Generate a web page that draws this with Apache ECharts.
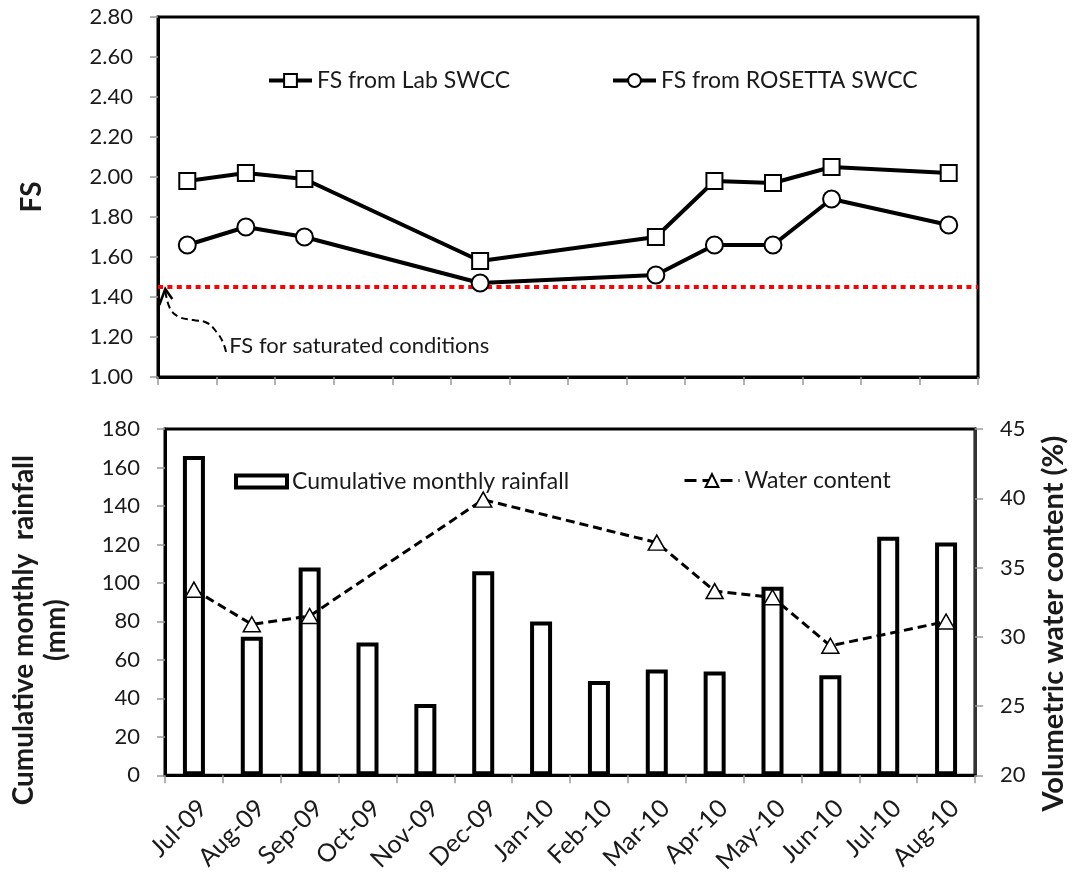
<!DOCTYPE html>
<html>
<head>
<meta charset="utf-8">
<script src="https://cdn.jsdelivr.net/npm/echarts@6/dist/echarts.min.js"></script>
<style>
  html, body { margin: 0; padding: 0; background: #ffffff; }
  #chart { width: 1076px; height: 876px; }
</style>
</head>
<body>
<div id="chart"></div>
<script>
// Monthly categories shared by both panels
const months = ['Jul-09', 'Aug-09', 'Sep-09', 'Oct-09', 'Nov-09', 'Dec-09', 'Jan-10',
                'Feb-10', 'Mar-10', 'Apr-10', 'May-10', 'Jun-10', 'Jul-10', 'Aug-10'];

// Factor of safety (null = no survey that month)
const fsLab     = [1.98, 2.02, 1.99, null, null, 1.58, null, null, 1.70, 1.98, 1.97, 2.05, null, 2.02];
const fsRosetta = [1.66, 1.75, 1.70, null, null, 1.47, null, null, 1.51, 1.66, 1.66, 1.89, null, 1.76];
const fsSaturated = 1.45;

// Cumulative monthly rainfall (mm)
const rainfall = [166, 72, 108, 69, 37, 106, 80, 49, 55, 54, 98, 52, 124, 121];

// Volumetric water content (%)
const waterContent = [33.4, 30.9, 31.5, null, null, 39.9, null, null, 36.8, 33.3, 32.85, 29.35, null, 31.1];

// Axis ranges / tick steps
const fsAxis = { min: 1.0, max: 2.8, step: 0.2 };
const rainAxis = { min: 0, max: 180, step: 20 };
const wcAxis = { min: 20, max: 45, step: 5 };

const FONT = 'Lato, "Open Sans", sans-serif';
const TEXT = '#1a1a1a';
const TICK = { show: true, length: 8, lineStyle: { color: '#9a9a9a', width: 1.5 } };
const labelStyle = { fontFamily: FONT, fontSize: 22, color: TEXT };
const legendText = { fontFamily: FONT, fontSize: 23, color: TEXT };
const nameStyle = { fontFamily: FONT, fontSize: 28, fontWeight: 'bold', color: TEXT };

const chart = echarts.init(document.getElementById('chart'), null, { renderer: 'canvas' });

const option = {
  animation: false,
  backgroundColor: '#ffffff',
  grid: [
    { left: 158, top: 17, width: 820, height: 360, show: true, borderColor: '#000', borderWidth: 3, containLabel: false },
    { left: 163, top: 429, width: 819, height: 351, show: true, borderColor: '#000', borderWidth: 3, containLabel: false }
  ],
  legend: [
    { data: ['FS from Lab SWCC'], left: 267, top: 69, padding: 0, itemWidth: 43, itemHeight: 16,
      textStyle: legendText, lineStyle: { width: 4 } },
    { data: ['FS from ROSETTA SWCC'], left: 611, top: 69, padding: 0, itemWidth: 43, itemHeight: 16,
      textStyle: legendText, lineStyle: { width: 4 } },
    { data: ['Cumulative monthly rainfall'], left: 234, top: 470, padding: 0, itemWidth: 51, itemHeight: 12,
      icon: 'rect', textStyle: legendText,
      itemStyle: { color: '#fff', borderColor: '#000', borderWidth: 4 } },
    { data: ['Water content'], left: 683, top: 469, padding: 0, itemWidth: 55, itemHeight: 16,
      textStyle: legendText, lineStyle: { width: 3, type: 'dashed' } }
  ],
  xAxis: [
    { type: 'category', gridIndex: 0, data: months, boundaryGap: true,
      axisLine: { lineStyle: { color: '#000', width: 3 } },
      axisTick: TICK, axisLabel: { show: false }, splitLine: { show: false } },
    { type: 'category', gridIndex: 1, data: months, boundaryGap: true,
      axisLine: { lineStyle: { color: '#000', width: 3 } },
      axisTick: TICK,
      axisLabel: Object.assign({ rotate: 45, margin: 20, verticalAlign: 'top', interval: 0 },
                               labelStyle, { fontSize: 25 }),
      splitLine: { show: false } }
  ],
  yAxis: [
    { type: 'value', gridIndex: 0, min: fsAxis.min, max: fsAxis.max, interval: fsAxis.step,
      name: 'FS', nameLocation: 'middle', nameRotate: 90, nameGap: 112, nameTextStyle: nameStyle,
      axisLine: { show: true, lineStyle: { color: '#000', width: 3 } },
      axisTick: TICK,
      axisLabel: Object.assign({ margin: 25, formatter: v => v.toFixed(2) }, labelStyle),
      splitLine: { show: false } },
    { type: 'value', gridIndex: 1, min: rainAxis.min, max: rainAxis.max, interval: rainAxis.step,
      name: 'Cumulative monthly  rainfall\n(mm)', nameLocation: 'middle', nameRotate: 90, nameGap: 93,
      nameTextStyle: Object.assign({ lineHeight: 32, align: 'center', padding: [0, 56, 0, 0] }, nameStyle),
      axisLine: { show: true, lineStyle: { color: '#000', width: 3 } },
      axisTick: TICK,
      axisLabel: Object.assign({ margin: 25 }, labelStyle),
      splitLine: { show: false } },
    { type: 'value', gridIndex: 1, position: 'right', min: wcAxis.min, max: wcAxis.max, interval: wcAxis.step,
      name: 'Volumetric water content (%)', nameLocation: 'middle', nameRotate: 90, nameGap: 64,
      nameTextStyle: Object.assign({ padding: [0, 43, 0, 0] }, nameStyle, { fontSize: 29 }),
      axisLine: { show: true, lineStyle: { color: '#333', width: 3 } },
      axisTick: TICK,
      axisLabel: Object.assign({ margin: 25 }, labelStyle),
      splitLine: { show: false } }
  ],
  series: [
    { name: 'FS from Lab SWCC', type: 'line', xAxisIndex: 0, yAxisIndex: 0, data: fsLab,
      connectNulls: true, symbol: 'rect', symbolSize: 16, z: 3,
      lineStyle: { color: '#000', width: 4 },
      itemStyle: { color: '#fff', borderColor: '#000', borderWidth: 2 },
      markLine: {
        silent: true, symbol: 'none', label: { show: false }, z: 2,
        lineStyle: { color: '#ff0000', width: 4, type: [5, 4.4], cap: 'butt' },
        data: [{ yAxis: fsSaturated }]
      } },
    { name: 'FS from ROSETTA SWCC', type: 'line', xAxisIndex: 0, yAxisIndex: 0, data: fsRosetta,
      connectNulls: true, symbol: 'circle', symbolSize: 17, z: 4,
      lineStyle: { color: '#000', width: 4 },
      itemStyle: { color: '#fff', borderColor: '#000', borderWidth: 2 } },
    { name: 'Cumulative monthly rainfall', type: 'bar', xAxisIndex: 1, yAxisIndex: 1, data: rainfall,
      barWidth: 22,
      itemStyle: { color: '#fff', borderColor: '#000', borderWidth: 4 } },
    { name: 'Water content', type: 'line', xAxisIndex: 1, yAxisIndex: 2, data: waterContent,
      connectNulls: true, symbol: 'triangle', symbolSize: [17, 15], z: 5,
      lineStyle: { color: '#000', width: 3, type: [9, 5] },
      itemStyle: { color: '#fff', borderColor: '#000', borderWidth: 1.5 } }
  ]
};

chart.setOption(option);

// Annotation pointing at the saturated-conditions level, anchored to the first category
const anchor = chart.convertToPixel({ xAxisIndex: 0, yAxisIndex: 0 }, [0, fsSaturated]);
const tipX = anchor[0] - 22;
const tipY = anchor[1] + 2;
chart.setOption({
  graphic: [
    { type: 'polyline', x: tipX, y: tipY, silent: true,
      shape: { points: [[0, 2], [5, 20], [14, 28], [28, 31], [42, 34], [52, 44], [58, 54], [61, 64]], smooth: 0.4 },
      style: { stroke: '#000', lineWidth: 2, lineDash: [7, 4], fill: null } },
    { type: 'polyline', x: tipX, y: tipY, silent: true,
      shape: { points: [[-6, 16], [0, 0], [7, 10]] },
      style: { stroke: '#000', lineWidth: 2.5, fill: null } },
    { type: 'text', x: tipX + 64, y: tipY + 57, silent: true,
      style: { text: 'FS for saturated conditions', font: '22px ' + FONT, fill: TEXT,
               textVerticalAlign: 'middle', verticalAlign: 'middle' } }
  ]
});
</script>
</body>
</html>
